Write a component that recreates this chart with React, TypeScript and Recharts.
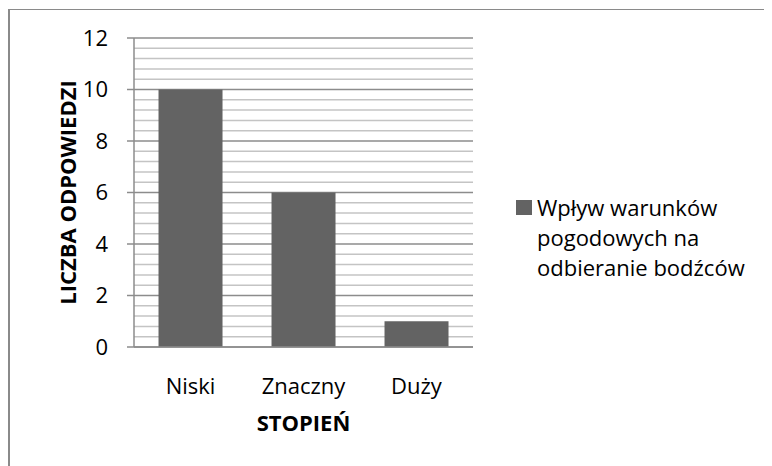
import React from "react";
import { BarChart, Bar, XAxis, YAxis, CartesianGrid, Legend } from "recharts";

const categories = ["Niski", "Znaczny", "Duży"];
const seriesName = "Wpływ warunków pogodowych na odbieranie bodźców";
const values = [10, 6, 1];
const majorTicks = [0, 2, 4, 6, 8, 10, 12];
const minorTicks = [
  0.4, 0.8, 1.2, 1.6, 2.4, 2.8, 3.2, 3.6, 4.4, 4.8, 5.2, 5.6, 6.4, 6.8, 7.2, 7.6,
  8.4, 8.8, 9.2, 9.6, 10.4, 10.8, 11.2, 11.6,
];
const xTitle = "STOPIEŃ";
const yTitle = "LICZBA ODPOWIEDZI";

const data = categories.map((c, i) => ({ name: c, value: values[i] }));

const FONT = "'Open Sans', Lato, sans-serif";
const FS = 22;
const BAR = "#636363";

const LegendContent = (props: any) => {
  const p = (props.payload || [])[0];
  return (
    <div style={{ display: "flex", alignItems: "flex-start", fontFamily: FONT, fontSize: FS, lineHeight: "30px", color: "#000", textAlign: "left" }}>
      <div style={{ width: 16, height: 15, background: BAR, marginTop: 8, marginRight: 5, flex: "none" }} />
      <div style={{ width: 230 }}>{p ? p.value : seriesName}</div>
    </div>
  );
};

const applyScale = (ax: any, t: number): number | undefined => {
  const s = ax && ax.scale;
  if (!s) return undefined;
  if (typeof s === "function") return s(t);
  if (typeof s.map === "function") return s.map(t);
  if (typeof s.apply === "function") return s.apply(t);
  if (typeof s.scale === "function") return s.scale(t);
  return undefined;
};

const gridGen = (ticks: number[]) => (props: any) => {
  const ax = props.yAxis;
  const out: number[] = [];
  for (const t of ticks) {
    const v = applyScale(ax, t);
    if (typeof v === "number" && !isNaN(v)) out.push(v);
  }
  return out;
};

export default function App() {
  return (
    <div
      style={{
        width: 762,
        height: 456,
        marginTop: 1,
        borderTop: "1px solid #8a8a8a",
        borderLeft: "2px solid #8a8a8a",
        background: "#fff",
        position: "relative",
      }}
    >
      <div style={{ position: "absolute", left: -2, top: -3 }}>
        <BarChart
          width={764}
          height={458}
          data={data}
          margin={{ top: 31, right: 299, left: 0, bottom: 28 }}
          barCategoryGap="21.7%"
        >
          <CartesianGrid
            vertical={false}
            stroke="#c4c4c4"
            strokeWidth={1.5}
            horizontalCoordinatesGenerator={gridGen(minorTicks)}
          />
          <CartesianGrid
            vertical={false}
            stroke="#8c8c8c"
            strokeWidth={1.5}
            horizontalCoordinatesGenerator={gridGen(majorTicks)}
          />
          <XAxis
            dataKey="name"
            height={90}
            interval={0}
            tickLine={false}
            axisLine={{ stroke: "#8c8c8c", strokeWidth: 1.5 }}
            tick={{ fill: "#000", fontSize: FS, fontFamily: FONT }}
            tickMargin={25}
            label={(lp: any) => {
              const vb = lp.viewBox;
              return (
                <text
                  x={vb.x + vb.width / 2}
                  y={vb.y + 75}
                  textAnchor="middle"
                  dominantBaseline="central"
                  fontFamily={FONT}
                  fontWeight="bold"
                  fontSize={FS}
                  fill="#000"
                >
                  {xTitle}
                </text>
              );
            }}
          />
          <YAxis
            width={126}
            domain={[0, 12]}
            ticks={majorTicks}
            interval={0}
            tickSize={7}
            tickMargin={19}
            axisLine={{ stroke: "#8c8c8c", strokeWidth: 1.5 }}
            tickLine={{ stroke: "#8c8c8c", strokeWidth: 1.5 }}
            tick={{ fill: "#000", fontSize: FS, fontFamily: FONT }}
            label={(lp: any) => {
              const vb = lp.viewBox;
              const cx = 59;
              const cy = vb.y + vb.height / 2;
              return (
                <text
                  x={cx}
                  y={cy}
                  transform={`rotate(-90 ${cx} ${cy})`}
                  textAnchor="middle"
                  dominantBaseline="central"
                  fontFamily={FONT}
                  fontWeight="bold"
                  fontSize={FS}
                  fill="#000"
                >
                  {yTitle}
                </text>
              );
            }}
          />
          <Legend
            layout="horizontal"
            align="center"
            verticalAlign="middle"
            content={LegendContent}
            wrapperStyle={{ left: 508, top: 185, width: 256 }}
          />
          <Bar dataKey="value" name={seriesName} fill={BAR} isAnimationActive={false} />
        </BarChart>
      </div>
    </div>
  );
}
